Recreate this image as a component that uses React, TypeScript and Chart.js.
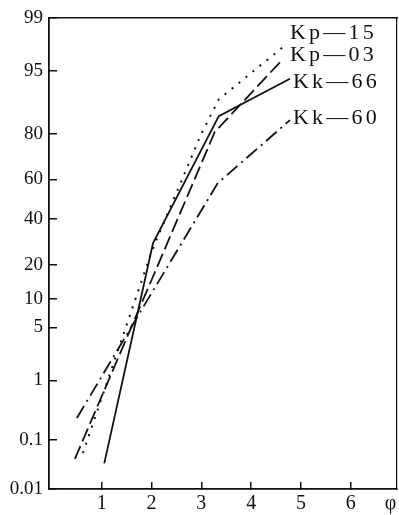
import React, { useEffect, useRef } from "react";
import { Chart, Scale, registerables } from "chart.js";

// ---- data ----
const seriesNames = ["Kp—15", "Kp—03", "Kk—66", "Kk—60"];
const phiKp15 = [0.62, 2.0, 3.0, 3.35, 4.72];
const pctKp15 = [0.056, 25, 80, 90, 97.7];
const phiKp03 = [0.46, 2.0, 3.27, 4.62];
const pctKp03 = [0.043, 15, 80.6, 96.3];
const phiKk66 = [1.05, 2.03, 3.35, 4.78];
const pctKk66 = [0.035, 28.7, 85.7, 93.9];
const phiKk60 = [0.5, 2.0, 3.33, 4.78];
const pctKk60 = [0.25, 11.4, 58.2, 84.5];

const yTickValues = [0.01, 0.1, 1, 5, 10, 20, 40, 60, 80, 95, 99];
const yTickLabels = ["0.01", "0.1", "1", "5", "10", "20", "40", "60", "80", "95", "99"];
const xTickValues = [1, 2, 3, 4, 5, 6, 6.8];
const xTickLabels = ["1", "2", "3", "4", "5", "6", "φ"];

// ---- probability (normal quantile) helpers ----
function probit(pct: number): number {
  const p = pct / 100;
  const a = [-3.969683028665376e1, 2.209460984245205e2, -2.759285104469687e2, 1.38357751867269e2, -3.066479806614716e1, 2.506628277459239];
  const b = [-5.447609879822406e1, 1.615858368580409e2, -1.556989798598866e2, 6.680131188771972e1, -1.328068155288572e1];
  const c = [-7.784894002430293e-3, -3.223964580411365e-1, -2.400758277161838, -2.549732539343734, 4.374664141464968, 2.938163982698783];
  const d = [7.784695709041462e-3, 3.224671290700398e-1, 2.445134137142996, 3.754408661907416];
  const plow = 0.02425;
  if (p <= 0) return -8;
  if (p >= 1) return 8;
  if (p < plow) {
    const q = Math.sqrt(-2 * Math.log(p));
    return (((((c[0] * q + c[1]) * q + c[2]) * q + c[3]) * q + c[4]) * q + c[5]) / ((((d[0] * q + d[1]) * q + d[2]) * q + d[3]) * q + 1);
  }
  if (p <= 1 - plow) {
    const q = p - 0.5;
    const r = q * q;
    return ((((((a[0] * r + a[1]) * r + a[2]) * r + a[3]) * r + a[4]) * r + a[5]) * q) / (((((b[0] * r + b[1]) * r + b[2]) * r + b[3]) * r + b[4]) * r + 1);
  }
  const q = Math.sqrt(-2 * Math.log(1 - p));
  return -(((((c[0] * q + c[1]) * q + c[2]) * q + c[3]) * q + c[4]) * q + c[5]) / ((((d[0] * q + d[1]) * q + d[2]) * q + d[3]) * q + 1);
}
function normCdfPct(z: number): number {
  const t = 1 / (1 + 0.2316419 * Math.abs(z));
  const dens = Math.exp(-z * z / 2) / Math.sqrt(2 * Math.PI);
  const pr = 1 - dens * t * (0.31938153 + t * (-0.356563782 + t * (1.781477937 + t * (-1.821255978 + t * 1.330274429))));
  return (z >= 0 ? pr : 1 - pr) * 100;
}

class ProbitScale extends Scale {
  static id = "probit";
  static defaults = {};
  _zStart = 0;
  _zRange = 1;
  determineDataLimits() {
    const opts: any = this.options;
    this.min = opts.min ?? 0.01;
    this.max = opts.max ?? 99;
  }
  buildTicks() {
    return yTickValues.map((v) => ({ value: v }));
  }
  configure() {
    super.configure();
    this._zStart = probit(this.min);
    this._zRange = probit(this.max) - probit(this.min);
  }
  getLabelForValue(v: number) {
    return String(v);
  }
  getPixelForValue(v: number) {
    return this.getPixelForDecimal((probit(v) - this._zStart) / this._zRange);
  }
  getValueForPixel(px: number) {
    return normCdfPct(this.getDecimalForPixel(px) * this._zRange + this._zStart);
  }
}

Chart.register(...registerables, ProbitScale);

const INK = "#111";
const FONT = "'Liberation Serif', 'Times New Roman', serif";
const labelOffsets = [
  [3, -11],
  [8, -5],
  [3, 3],
  [3, -2],
];

const seriesLabelPlugin = {
  id: "seriesLabels",
  afterDatasetsDraw(chart: any) {
    const ctx = chart.ctx;
    chart.data.datasets.forEach((ds: any, i: number) => {
      const meta = chart.getDatasetMeta(i);
      const pt = meta.data[meta.data.length - 1];
      ctx.save();
      ctx.font = `22px ${FONT}`;
      ctx.fillStyle = INK;
      ctx.textBaseline = "middle";
      ctx.textAlign = "left";
      (ctx as any).letterSpacing = "3.2px";
      ctx.fillText(ds.label, pt.x + labelOffsets[i][0], pt.y + labelOffsets[i][1]);
      ctx.restore();
    });
  },
};

function pts(xs: number[], ys: number[]) {
  return xs.map((x, i) => ({ x, y: ys[i] }));
}

function noPad(s: any) {
  s.paddingTop = 0;
  s.paddingBottom = 0;
  s.paddingLeft = 0;
  s.paddingRight = 0;
}

export default function App() {
  const ref = useRef<HTMLCanvasElement>(null);
  useEffect(() => {
    if (!ref.current) return;
    const common = { borderColor: INK, pointRadius: 0, fill: false, tension: 0 };
    const chart = new Chart(ref.current, {
      type: "line",
      data: {
        datasets: [
          { ...common, label: seriesNames[0], data: pts(phiKp15, pctKp15), borderWidth: 2, borderDash: [2, 7] },
          { ...common, label: seriesNames[1], data: pts(phiKp03, pctKp03), borderWidth: 1.8, borderDash: [14, 5] },
          { ...common, label: seriesNames[2], data: pts(phiKk66, pctKk66), borderWidth: 1.8 },
          { ...common, label: seriesNames[3], data: pts(phiKk60, pctKk60), borderWidth: 1.8, borderDash: [14, 5, 2, 5] },
        ],
      } as any,
      options: {
        animation: false,
        responsive: false,
        maintainAspectRatio: false,
        devicePixelRatio: 1,
        layout: { padding: { top: 18, right: 2, left: 0, bottom: 0 } },
        plugins: { legend: { display: false }, tooltip: { enabled: false } },
        scales: {
          x: {
            type: "linear",
            position: "bottom",
            min: -0.06,
            max: 6.93,
            afterBuildTicks: (s: any) => {
              s.ticks = xTickValues.map((v) => ({ value: v }));
            },
            afterFit: (s: any) => {
              s.height = 26;
              noPad(s);
            },
            ticks: {
              color: INK,
              font: { family: FONT, size: 20 },
              padding: 10,
              maxRotation: 0,
              autoSkip: false,
              callback: (v: any, i: number) => xTickLabels[i],
            },
            grid: {
              drawOnChartArea: false,
              drawTicks: true,
              tickLength: -7,
              lineWidth: 1.5,
              color: (c: any) => (c.tick && c.tick.value === 6.8 ? "rgba(0,0,0,0)" : INK),
            },
            border: { display: true, color: INK, width: 1.8 },
          },
          xTop: {
            type: "linear",
            position: "top",
            display: true,
            min: -0.06,
            max: 6.93,
            ticks: { display: false },
            grid: { display: false, drawTicks: false },
            border: { display: true, color: INK, width: 1.5 },
            afterFit: (s: any) => {
              s.height = 0;
              noPad(s);
            },
          },
          y: {
            type: "probit",
            position: "left",
            min: 0.01,
            max: 99,
            afterFit: (s: any) => {
              s.width = 49;
              noPad(s);
            },
            ticks: {
              color: INK,
              font: { family: FONT, size: 19 },
              padding: 14,
              autoSkip: false,
              callback: (v: any, i: number) => yTickLabels[i],
            },
            grid: {
              drawOnChartArea: false,
              drawTicks: true,
              tickLength: -8,
              lineWidth: 1.5,
              color: INK,
            },
            border: { display: true, color: INK, width: 1.8 },
          } as any,
          yRight: {
            type: "probit",
            position: "right",
            display: true,
            min: 0.01,
            max: 99,
            ticks: { display: false },
            grid: { display: false, drawTicks: false },
            border: { display: true, color: INK, width: 1.2 },
            afterFit: (s: any) => {
              s.width = 0;
              noPad(s);
            },
          } as any,
        },
      } as any,
      plugins: [seriesLabelPlugin],
    });
    return () => chart.destroy();
  }, []);
  return (
    <div style={{ position: "absolute", left: 0, top: 0, width: 399, height: 515, background: "#fff" }}>
      <canvas ref={ref} width={399} height={515} style={{ display: "block" }} />
    </div>
  );
}
